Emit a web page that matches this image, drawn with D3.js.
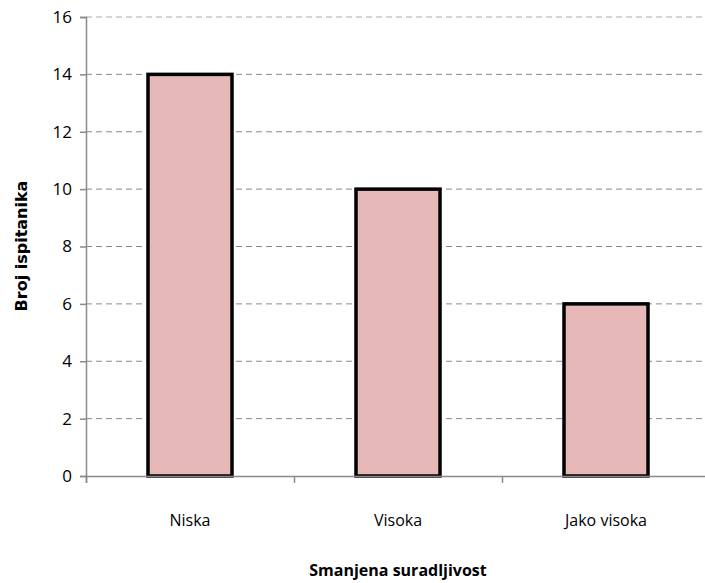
<!DOCTYPE html>
<html>
<head>
<meta charset="utf-8">
<script src="https://cdn.jsdelivr.net/npm/d3@7"></script>
<style>
  body { margin: 0; background: #fff; }
  svg { display: block; }
</style>
</head>
<body>
<div id="chart"></div>
<script>
const categories = ["Niska", "Visoka", "Jako visoka"];
const values = [14, 10, 6];
const yTicks = [0, 2, 4, 6, 8, 10, 12, 14, 16];

function draw() {
  const width = 705, height = 583;
  const left = 86, right = 710, top = 17, bottom = 476;
  const font = "'Open Sans', sans-serif";

  const svg = d3.select("#chart").append("svg")
    .attr("width", width)
    .attr("height", height);

  const x = d3.scaleBand().domain(categories).range([left, right]).paddingInner(0).paddingOuter(0);
  const y = d3.scaleLinear().domain([0, 16]).range([bottom, top]);
  const barW = 84;

  // gridlines
  svg.append("g").selectAll("line")
    .data(yTicks.filter(d => d > 0))
    .join("line")
    .attr("x1", left).attr("x2", right)
    .attr("y1", d => y(d)).attr("y2", d => y(d))
    .attr("stroke", d => d === 16 ? "#c8c8c8" : "#8a8a8a")
    .attr("stroke-width", d => d === 16 ? 1.5 : 1)
    .attr("stroke-dasharray", "6,4");

  // bars
  svg.append("g").selectAll("rect")
    .data(values)
    .join("rect")
    .attr("x", (d, i) => x(categories[i]) + x.bandwidth() / 2 - barW / 2)
    .attr("y", d => y(d))
    .attr("width", barW)
    .attr("height", d => y(0) - y(d))
    .attr("fill", "#E6B8B7")
    .attr("stroke", "#000")
    .attr("stroke-width", 3.5);

  // y axis
  const yAxis = svg.append("g")
    .attr("transform", `translate(${left},0)`)
    .call(d3.axisLeft(y).tickValues(yTicks).tickSize(6).tickPadding(8));
  yAxis.select(".domain").attr("stroke", "#8a8a8a").attr("stroke-width", 1.5);
  yAxis.selectAll(".tick line").attr("stroke", "#8a8a8a").attr("stroke-width", 1.5);
  yAxis.selectAll(".tick text")
    .attr("font-family", font)
    .attr("font-size", 17)
    .attr("fill", "#000");

  // x axis
  const xLin = d3.scaleLinear().domain([0, 3]).range([left, right]);
  const xAxis = svg.append("g")
    .attr("transform", `translate(0,${bottom})`)
    .call(d3.axisBottom(xLin).tickValues([0, 1, 2]).tickSize(7).tickFormat(""));
  xAxis.select(".domain").attr("stroke", "#8a8a8a").attr("stroke-width", 1.5);
  xAxis.selectAll(".tick line").attr("stroke", "#8a8a8a").attr("stroke-width", 1.5);

  svg.append("g").selectAll("text")
    .data(categories)
    .join("text")
    .attr("x", d => x(d) + x.bandwidth() / 2)
    .attr("y", 526)
    .attr("text-anchor", "middle")
    .attr("font-family", font)
    .attr("font-size", 16)
    .text(d => d);

  // titles
  svg.append("text")
    .attr("x", 398).attr("y", 576)
    .attr("text-anchor", "middle")
    .attr("font-family", font)
    .attr("font-weight", "bold")
    .attr("font-size", 16)
    .text("Smanjena suradljivost");

  svg.append("text")
    .attr("transform", "translate(27,246) rotate(-90)")
    .attr("text-anchor", "middle")
    .attr("font-family", "'DejaVu Sans', sans-serif")
    .attr("font-weight", "bold")
    .attr("font-size", 16)
    .text("Broj ispitanika");
}

window.onload = function () {
  draw();
};
</script>
</body>
</html>
